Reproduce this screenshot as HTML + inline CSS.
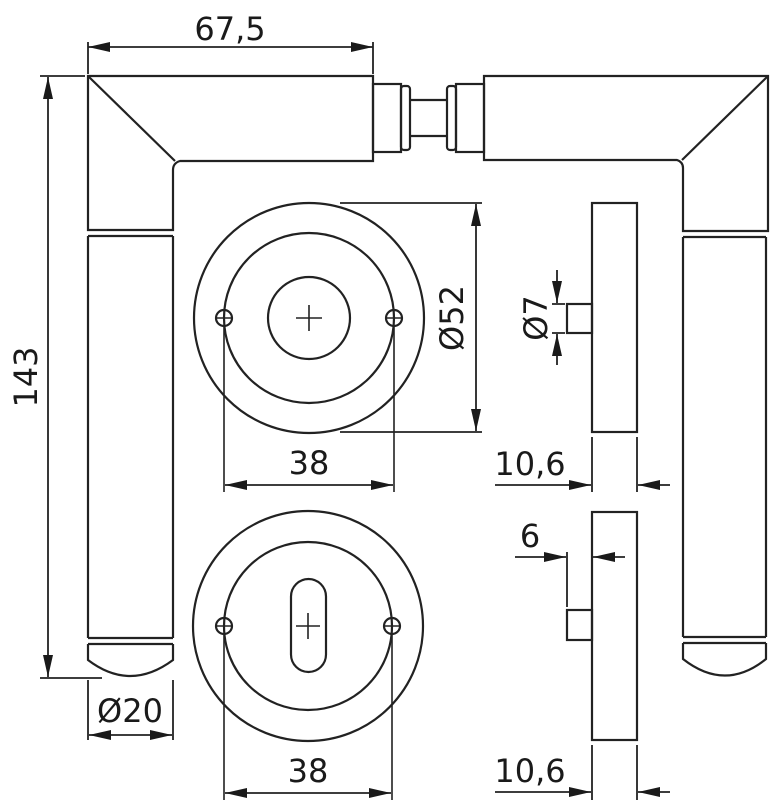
<!DOCTYPE html>
<html><head><meta charset="utf-8"><style>
html,body{margin:0;padding:0;background:#fff;}
svg{display:block;}
text{font-family:"DejaVu Sans","Liberation Sans",sans-serif;font-size:32px;fill:#1a1a1a;}
</style></head><body>
<svg width="770" height="800" viewBox="0 0 770 800" xmlns="http://www.w3.org/2000/svg">
<defs>
<marker id="a" viewBox="0 0 22 10" refX="22" refY="5" markerWidth="22" markerHeight="10" markerUnits="userSpaceOnUse" orient="auto-start-reverse"><path d="M0,0 L22,5 L0,10 z" fill="#1a1a1a"/></marker>
</defs>
<g fill="none" stroke="#222" stroke-width="2.2">
<path d="M88,76 L373,76 L373,161 L180,161 Q173,163 173,170 L173,230 L88,230 Z"/>
<path d="M88,76 L175,161"/>
<path d="M88,236 L173,236 M88,236 L88,638 M173,236 L173,638 M88,638 L173,638 M88,644 L173,644"/>
<path d="M88,644 L88,660 Q130,692 173,660 L173,644"/>
<rect x="373" y="84" width="28" height="68"/>
<rect x="401" y="86" width="9" height="64" rx="3"/>
<path d="M410,100 L447,100 M410,136 L447,136"/>
<rect x="447" y="86" width="9" height="64" rx="3"/>
<rect x="456" y="84" width="28" height="68"/>
<path d="M484,76 L768,76 L768,231 L683,231 L683,168 Q683,162 677,160 L484,160 Z"/>
<path d="M768,76 L682,160"/>
<path d="M683,237 L766,237 M683,237 L683,637 M766,237 L766,637 M683,637 L766,637 M683,643 L766,643"/>
<path d="M683,643 L683,659 Q725,692 766,659 L766,643"/>
<circle cx="309" cy="318" r="115"/>
<circle cx="309" cy="318" r="85"/>
<circle cx="309" cy="318" r="41"/>
<path d="M296,318 L322,318 M309,305 L309,331" stroke-width="1.6"/>
<circle cx="224" cy="318" r="8"/><path d="M216,318 L232,318" stroke-width="1.5"/>
<circle cx="394" cy="318" r="8"/><path d="M386,318 L402,318" stroke-width="1.5"/>
<path d="M224,326 L224,492 M394,326 L394,492" stroke-width="1.6"/>
<circle cx="308" cy="626" r="115"/>
<circle cx="308" cy="626" r="84"/>
<rect x="291" y="579" width="35" height="93" rx="17.5"/>
<path d="M296,626 L320,626 M308,613 L308,639" stroke-width="1.6"/>
<circle cx="224" cy="626" r="8"/><path d="M216,626 L232,626" stroke-width="1.5"/>
<circle cx="392" cy="626" r="8"/><path d="M384,626 L400,626" stroke-width="1.5"/>
<path d="M224,634 L224,800 M392,634 L392,800" stroke-width="1.6"/>
<rect x="592" y="203" width="45" height="229"/>
<rect x="567" y="304" width="25" height="29"/>
<rect x="592" y="512" width="45" height="228"/>
<rect x="567" y="610" width="25" height="30"/>
</g>
<g fill="none" stroke="#222" stroke-width="1.8">
<path d="M88,42 L88,74 M373,42 L373,74"/>
<path d="M88,47 L373,47" marker-start="url(#a)" marker-end="url(#a)"/>
<path d="M40,76 L85,76 M40,678 L102,678"/>
<path d="M48,77 L48,677" marker-start="url(#a)" marker-end="url(#a)"/>
<path d="M88,680 L88,740 M173,680 L173,740"/>
<path d="M89,735 L172,735" marker-start="url(#a)" marker-end="url(#a)"/>
<path d="M340,203 L482,203 M340,432 L482,432"/>
<path d="M476,204 L476,431" marker-start="url(#a)" marker-end="url(#a)"/>
<path d="M225,485 L393,485" marker-start="url(#a)" marker-end="url(#a)"/>
<path d="M225,793 L391,793" marker-start="url(#a)" marker-end="url(#a)"/>
<path d="M552,304 L565,304 M552,333 L565,333"/>
<path d="M557,270 L557,303" marker-end="url(#a)"/>
<path d="M557,365 L557,334" marker-end="url(#a)"/>
<path d="M592,437 L592,492 M637,437 L637,492"/>
<path d="M495,485 L591,485" marker-end="url(#a)"/>
<path d="M670,485 L638,485" marker-end="url(#a)"/>
<path d="M567,552 L567,607"/>
<path d="M515,557 L566,557" marker-end="url(#a)"/>
<path d="M625,557 L593,557" marker-end="url(#a)"/>
<path d="M592,745 L592,800 M637,745 L637,800"/>
<path d="M495,792 L591,792" marker-end="url(#a)"/>
<path d="M670,792 L638,792" marker-end="url(#a)"/>
</g>
<text x="230" y="40" text-anchor="middle">67,5</text>
<text transform="translate(37,377) rotate(-90)" text-anchor="middle">143</text>
<text x="130" y="722" text-anchor="middle">Ø20</text>
<text transform="translate(463,318) rotate(-90)" text-anchor="middle">Ø52</text>
<text x="309" y="474" text-anchor="middle">38</text>
<text x="308" y="782" text-anchor="middle">38</text>
<text transform="translate(547,318) rotate(-90)" text-anchor="middle">Ø7</text>
<text x="530" y="475" text-anchor="middle">10,6</text>
<text x="530" y="547" text-anchor="middle">6</text>
<text x="530" y="782" text-anchor="middle">10,6</text>
</svg>
</body></html>
